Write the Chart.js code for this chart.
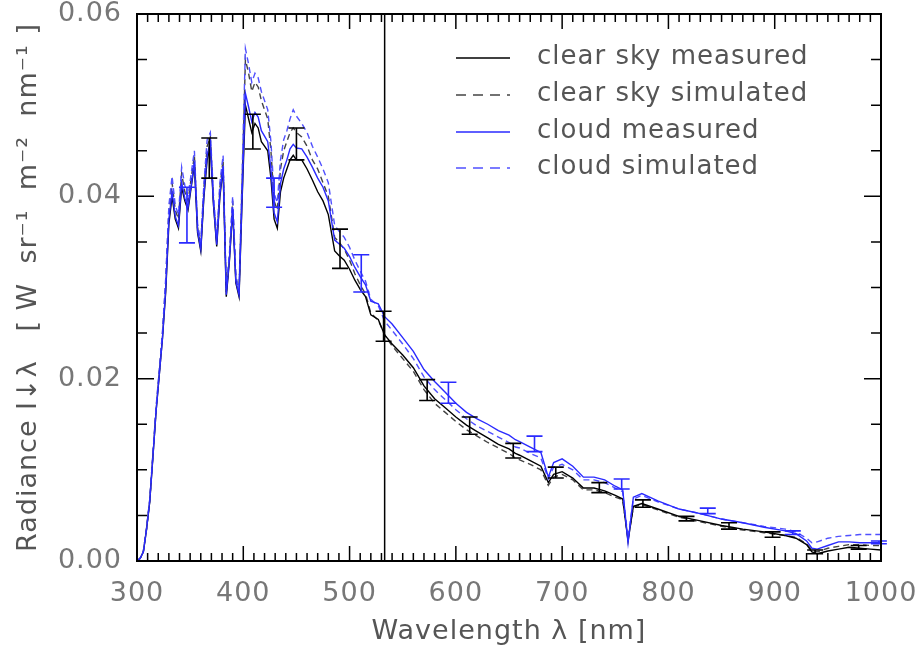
<!DOCTYPE html>
<html><head><meta charset="utf-8">
<script src="https://cdn.jsdelivr.net/npm/chart.js@4.4.1/dist/chart.umd.min.js"></script>
<style>html,body{margin:0;padding:0;background:#fff;}canvas{display:block;}</style>
</head><body>
<canvas id="c" width="920" height="649"></canvas>
<script>
const wavelengths = [300,303,306,309,312,315,318,321,324,327,330,333,336,339,342,345,348,351,354,357,360,363,366,369,372,375,378,381,384,387,390,393,396,399,402,405,408,411,414,417,420,423,426,429,432,435,438,441,444,447,450,455,460,465,470,475,480,486,490,495,500,505,510,515,520,527,533,540,550,560,570,580,590,600,610,620,630,640,650,656,660,670,680,687,692,700,710,720,730,740,750,757,762,767,775,790,810,830,850,870,890,910,920,930,935,940,950,960,970,980,990,1000];

const clearSkyMeasured = [0.0000,0.0003,0.0010,0.0035,0.0065,0.0115,0.0165,0.0205,0.0245,0.0295,0.0370,0.0400,0.0375,0.0365,0.0410,0.0395,0.0385,0.0410,0.0435,0.0360,0.0340,0.0400,0.0440,0.0455,0.0390,0.0345,0.0400,0.0430,0.0290,0.0330,0.0385,0.0305,0.0290,0.0400,0.0500,0.0485,0.0470,0.0480,0.0475,0.0460,0.0455,0.0450,0.0420,0.0375,0.0365,0.0405,0.0420,0.0430,0.0440,0.0445,0.0440,0.0440,0.0430,0.0418,0.0405,0.0395,0.0380,0.0340,0.0335,0.0330,0.0320,0.0308,0.0298,0.0290,0.0270,0.0265,0.0248,0.0238,0.0226,0.0212,0.0192,0.0178,0.0168,0.0158,0.0149,0.0142,0.0135,0.0128,0.0123,0.0118,0.0116,0.0110,0.0104,0.0086,0.0095,0.0098,0.0091,0.0080,0.0080,0.0077,0.0072,0.0068,0.0022,0.0060,0.0063,0.0057,0.0049,0.0044,0.0039,0.0035,0.0032,0.0028,0.0025,0.0018,0.0010,0.0008,0.0011,0.0013,0.0015,0.0014,0.0013,0.0012];

const clearSkySimulated = [0.0000,0.0003,0.0011,0.0036,0.0067,0.0117,0.0168,0.0208,0.0250,0.0305,0.0385,0.0415,0.0385,0.0375,0.0425,0.0405,0.0395,0.0420,0.0445,0.0365,0.0345,0.0410,0.0455,0.0465,0.0395,0.0350,0.0410,0.0440,0.0295,0.0335,0.0395,0.0310,0.0295,0.0420,0.0550,0.0535,0.0515,0.0525,0.0520,0.0505,0.0495,0.0485,0.0450,0.0395,0.0385,0.0430,0.0450,0.0460,0.0470,0.0475,0.0470,0.0465,0.0455,0.0440,0.0430,0.0415,0.0400,0.0355,0.0350,0.0342,0.0330,0.0315,0.0303,0.0293,0.0272,0.0264,0.0248,0.0236,0.0222,0.0208,0.0188,0.0173,0.0163,0.0153,0.0144,0.0137,0.0130,0.0124,0.0118,0.0113,0.0111,0.0106,0.0100,0.0083,0.0092,0.0095,0.0089,0.0078,0.0078,0.0075,0.0070,0.0067,0.0024,0.0059,0.0062,0.0056,0.0048,0.0043,0.0038,0.0034,0.0031,0.0028,0.0026,0.0019,0.0012,0.0010,0.0014,0.0016,0.0018,0.0018,0.0017,0.0017];

const cloudMeasured = [0.0000,0.0003,0.0010,0.0035,0.0066,0.0115,0.0165,0.0205,0.0245,0.0298,0.0375,0.0405,0.0378,0.0368,0.0415,0.0398,0.0388,0.0412,0.0438,0.0362,0.0342,0.0403,0.0445,0.0460,0.0392,0.0347,0.0403,0.0433,0.0292,0.0332,0.0388,0.0307,0.0292,0.0405,0.0513,0.0498,0.0482,0.0492,0.0487,0.0472,0.0466,0.0460,0.0430,0.0382,0.0372,0.0414,0.0430,0.0440,0.0452,0.0457,0.0453,0.0452,0.0443,0.0432,0.0420,0.0410,0.0395,0.0352,0.0348,0.0343,0.0334,0.0322,0.0312,0.0303,0.0285,0.0282,0.0268,0.0260,0.0245,0.0230,0.0210,0.0197,0.0185,0.0173,0.0163,0.0156,0.0150,0.0143,0.0138,0.0133,0.0131,0.0125,0.0119,0.0092,0.0108,0.0112,0.0104,0.0092,0.0092,0.0089,0.0082,0.0078,0.0020,0.0070,0.0074,0.0066,0.0057,0.0052,0.0046,0.0042,0.0037,0.0033,0.0030,0.0022,0.0014,0.0013,0.0017,0.0021,0.0021,0.0020,0.0020,0.0020];

const cloudSimulated = [0.0000,0.0003,0.0011,0.0036,0.0068,0.0118,0.0170,0.0210,0.0252,0.0310,0.0390,0.0422,0.0390,0.0380,0.0432,0.0412,0.0400,0.0425,0.0450,0.0370,0.0350,0.0415,0.0462,0.0470,0.0400,0.0355,0.0415,0.0445,0.0298,0.0338,0.0400,0.0313,0.0298,0.0430,0.0562,0.0545,0.0525,0.0535,0.0530,0.0515,0.0505,0.0495,0.0460,0.0403,0.0393,0.0440,0.0462,0.0472,0.0485,0.0495,0.0488,0.0480,0.0470,0.0455,0.0443,0.0430,0.0415,0.0368,0.0362,0.0355,0.0344,0.0330,0.0318,0.0307,0.0287,0.0280,0.0263,0.0253,0.0238,0.0222,0.0202,0.0188,0.0177,0.0166,0.0156,0.0148,0.0142,0.0136,0.0130,0.0125,0.0124,0.0118,0.0113,0.0090,0.0103,0.0106,0.0100,0.0089,0.0089,0.0086,0.0080,0.0076,0.0025,0.0068,0.0072,0.0065,0.0057,0.0052,0.0046,0.0042,0.0038,0.0035,0.0032,0.0025,0.0020,0.0021,0.0025,0.0027,0.0028,0.0029,0.0029,0.0029];

const clearErrWavelengths = [368,409,450,491,532,573,613,654,694,735,776,817,857,898,938,979];
const clearErrLow  = [0.0420,0.0452,0.0440,0.0321,0.0241,0.0176,0.0139,0.0113,0.0091,0.0075,0.0059,0.0044,0.0035,0.0026,0.0008,0.0013];
const clearErrHigh = [0.0464,0.0490,0.0475,0.0364,0.0274,0.0199,0.0158,0.0129,0.0103,0.0086,0.0067,0.0049,0.0042,0.0032,0.0012,0.0017];

const cloudErrWavelengths = [347,429,511,593,674,756,837,917,998];
const cloudErrLow  = [0.0349,0.0388,0.0295,0.0173,0.0120,0.0079,0.0052,0.0029,0.0019];
const cloudErrHigh = [0.0410,0.0420,0.0336,0.0196,0.0137,0.0090,0.0058,0.0033,0.0022];

const seriesLabels = ['clear sky measured','clear sky simulated','cloud measured','cloud simulated'];
const markerWavelength = 533;
const xRange = [300, 1000];
const yRange = [0, 0.06];

const BLACK = '#000000', BLUE = '#2a2aff';
const FONT = 'DejaVu Sans';

function pts(vals){ return wavelengths.map((w,i)=>({x:w,y:vals[i]})); }

const datasets = [
  {label:seriesLabels[0], data:pts(clearSkyMeasured), borderColor:BLACK, borderWidth:1.4, order:2},
  {label:seriesLabels[1], data:pts(clearSkySimulated), borderColor:'#444444', borderWidth:1.4, borderDash:[6,4], order:3},
  {label:seriesLabels[2], data:pts(cloudMeasured), borderColor:BLUE, borderWidth:1.4, order:0},
  {label:seriesLabels[3], data:pts(cloudSimulated), borderColor:'#5050ff', borderWidth:1.4, borderDash:[6,4], order:1}
].map(d=>Object.assign({pointRadius:0, tension:0, fill:false}, d));

const spacingPlugin = {
  id:'spacing',
  beforeUpdate(chart){ chart.ctx.letterSpacing='1px'; },
  beforeDraw(chart){ chart.ctx.letterSpacing='1px'; }
};

const errorBars = {
  id:'errorBars',
  afterDatasetsDraw(chart){
    const {ctx, scales:{x,y}} = chart;
    ctx.save();
    ctx.lineWidth = 1.6;
    const draw = (xs, lo, hi, color)=>{
      ctx.strokeStyle = color;
      xs.forEach((w,i)=>{
        const px = x.getPixelForValue(w), p1 = y.getPixelForValue(lo[i]), p2 = y.getPixelForValue(hi[i]);
        ctx.beginPath();
        ctx.moveTo(px,p1); ctx.lineTo(px,p2);
        ctx.moveTo(px-8,p1); ctx.lineTo(px+8,p1);
        ctx.moveTo(px-8,p2); ctx.lineTo(px+8,p2);
        ctx.stroke();
      });
    };
    draw(clearErrWavelengths, clearErrLow, clearErrHigh, BLACK);
    draw(cloudErrWavelengths, cloudErrLow, cloudErrHigh, BLUE);
    ctx.restore();
  }
};

const frame = {
  id:'frame',
  afterDraw(chart){
    const {ctx, chartArea:a, scales:{x,y}} = chart;
    ctx.save();
    ctx.strokeStyle = '#000'; ctx.lineWidth = 1.5;
    ctx.beginPath();
    for (let v = xRange[0]; v <= xRange[1]; v += 10) {
      const px = x.getPixelForValue(v);
      const L = (v % 100 === 0) ? 15 : 8;
      ctx.moveTo(px, a.bottom); ctx.lineTo(px, a.bottom - L);
      ctx.moveTo(px, a.top); ctx.lineTo(px, a.top + L);
    }
    for (let i = 0; i <= 12; i++) {
      const py = y.getPixelForValue(i * 0.005);
      const L = (i % 4 === 0) ? 17 : 10;
      ctx.moveTo(a.left, py); ctx.lineTo(a.left + L, py);
      ctx.moveTo(a.right, py); ctx.lineTo(a.right - L, py);
    }
    ctx.stroke();
    const mx = x.getPixelForValue(markerWavelength);
    ctx.beginPath(); ctx.moveTo(mx, a.bottom); ctx.lineTo(mx, a.top); ctx.stroke();
    ctx.lineWidth = 2;
    ctx.strokeRect(a.left, a.top, a.right - a.left, a.bottom - a.top);
    const rows = [58, 95, 132, 168];
    chart.data.datasets.forEach((d, i) => {
      ctx.beginPath();
      ctx.strokeStyle = d.borderColor; ctx.lineWidth = 1.6;
      ctx.setLineDash(d.borderDash ? [10,7] : []);
      ctx.moveTo(456, rows[i]); ctx.lineTo(510, rows[i]); ctx.stroke();
      ctx.setLineDash([]);
      ctx.fillStyle = '#555';
      ctx.font = '26px "' + FONT + '"';
      ctx.letterSpacing = '1px';
      ctx.textBaseline = 'middle';
      ctx.fillText(d.label, 537, rows[i] - 1);
    });
    ctx.restore();
  }
};

new Chart(document.getElementById('c').getContext('2d'), {
  type:'line',
  data:{datasets},
  options:{
    responsive:false, animation:false, devicePixelRatio:1,
    layout:{padding:{left:0, top:14, right:39, bottom:0}},
    plugins:{legend:{display:false}, tooltip:{enabled:false}},
    scales:{
      x:{
        type:'linear', min:xRange[0], max:xRange[1],
        afterFit(s){ s.height = 88; s.paddingLeft = 0; s.paddingRight = 0; },
        grid:{display:false, drawTicks:false}, border:{display:false},
        ticks:{stepSize:100, padding:17, maxRotation:0, autoSkip:false, color:'#777', font:{family:FONT, size:27}, callback:v=>String(v)},
        title:{display:true, text:'Wavelength λ [nm]', color:'#555', font:{family:FONT, size:27}, padding:{top:0, bottom:1}}
      },
      y:{
        type:'linear', min:yRange[0], max:yRange[1],
        afterFit(s){ s.width = 137; s.paddingTop = 0; s.paddingBottom = 0; },
        grid:{display:false, drawTicks:false}, border:{display:false},
        ticks:{stepSize:0.02, padding:15, color:'#777', font:{family:FONT, size:27}, callback:v=>v.toFixed(2)},
        title:{display:true, text:'Radiance I↓λ   [ W  sr⁻¹  m⁻²  nm⁻¹ ]', color:'#555', font:{family:FONT, size:27}, padding:{top:13, bottom:0}}
      }
    }
  },
  plugins:[spacingPlugin, errorBars, frame]
});
</script>
</body></html>
